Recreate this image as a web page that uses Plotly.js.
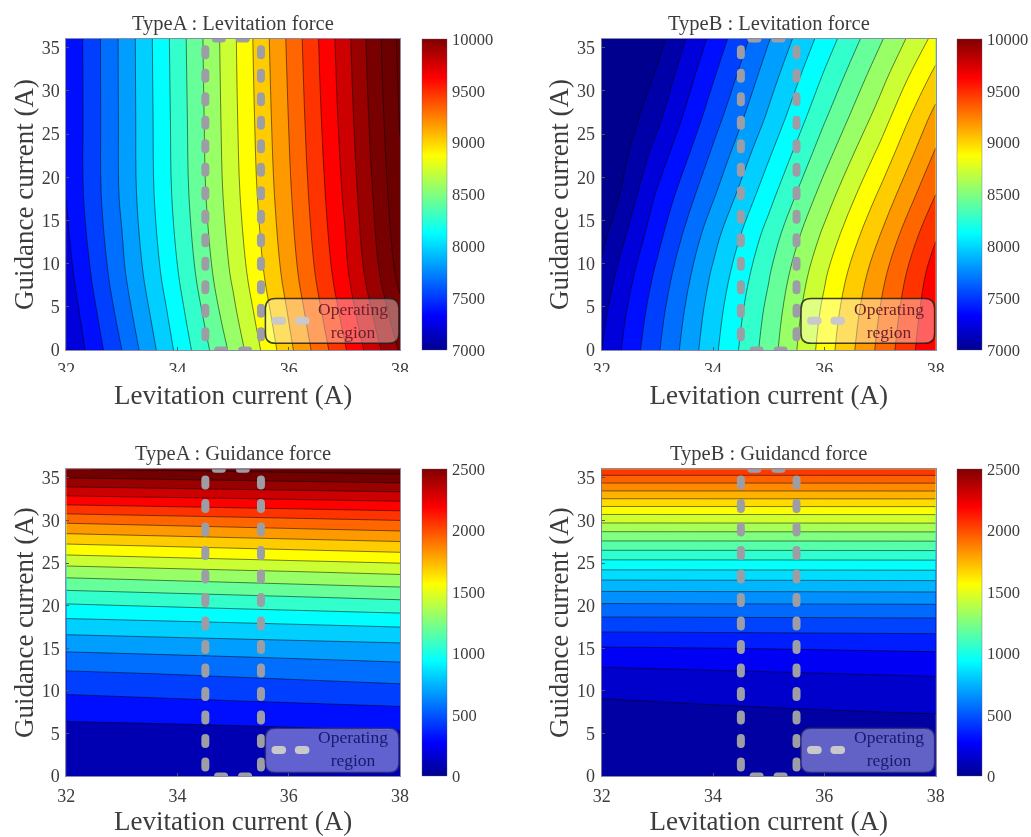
<!DOCTYPE html>
<html>
<head>
<meta charset="utf-8">
<script src="https://cdn.plot.ly/plotly-3.0.1.min.js"></script>
<style>
html,body{margin:0;padding:0;background:#fff}
#chart{width:1031px;height:837px;filter:blur(0.45px)}
.opreg .js-line{stroke-linecap:round}
</style>
</head>
<body>
<div id="chart"></div>
<script>
const panelTitles = ['TypeA : Levitation force','TypeB : Levitation force','TypeA : Guidance force','TypeB : Guidancd force'];
const xTitle = 'Levitation current (A)';
const yTitle = 'Guidance current (A)';
const xTicks = [32,34,36,38];
const yTicks = [0,5,10,15,20,25,30,35];
const levitationTicks = [7000,7500,8000,8500,9000,9500,10000];
const guidanceTicks = [0,500,1000,1500,2000,2500];

const xFine = [32,33,34,35,36,37,38];
const xCoarse = [32,35,38];
const yLevA = [0,4.5,9,18,27,36];
const typeALevitation = [
 [7147,7600,8085,8545,9061,9532,10015],
 [7190,7665,8140,8620,9115,9600,10110],
 [7240,7720,8195,8680,9170,9660,10200],
 [7305,7775,8250,8740,9225,9720,10270],
 [7308,7780,8262,8760,9255,9760,10310],
 [7310,7782,8272,8771,9277,9787,10337]];
const yLevB = [0,4.5,9,13.5,18,22.5,27,31.5,36];
const typeBLevitation = [
 [7150,7580,8010,8425,8870,9290,9700],
 [7105,7540,7975,8390,8835,9255,9670],
 [7040,7480,7920,8335,8775,9195,9625],
 [6950,7400,7840,8255,8680,9095,9530],
 [6850,7320,7730,8145,8565,8975,9400],
 [6810,7216,7630,8035,8445,8845,9275],
 [6770,7112,7530,7925,8330,8715,9150],
 [6710,7028,7438,7833,8222,8597,9000],
 [6650,6945,7347,7741,8115,8479,8850]];
const yGuideA = [0,3,6,9,12,15,18,21,24,27,30,33,36];
const typeAGuidance = [
 [130,135,140],[170,178,186],[235,252,270],[350,382,415],[481,517,555],[649,678,708],
 [840,875,910],[1058,1103,1150],[1312,1358,1404],[1602,1650,1698],[1909,1955,2000],[2264,2298,2333],[2620,2655,2690]];
const yGuideB = [0,5,10,13,15,17,19,21,23,25,27,29,31,33,35,36];
const typeBGuidance = [
 [20,22,25],[55,58,62],[110,127,145],[208,225,243],[292,303,315],[405,410,415],[519,522,525],[650,652,655],
 [800,802,805],[967,968,970],[1145,1146,1148],[1330,1331,1332],[1530,1531,1532],[1750,1751,1752],[1967,1967,1968],[2080,2080,2080]];

// operating region: dashes on the 34.5 / 35.5 A sides, top and bottom
const regionLeftRight = [34.5,35.5];
const regionY = [34.8,0.8];
const regionTopX = [34.68,35.3];
const regionBottomX = [34.72,35.35];
const legendDashX = [35.76,35.88,null,36.18,36.30];

const jetStops = [[0,'rgb(0,0,143)'],[0.11,'rgb(0,0,255)'],[0.375,'rgb(0,255,255)'],[0.625,'rgb(255,255,0)'],[0.875,'rgb(255,0,0)'],[1,'rgb(128,0,0)']];
const serif = '"Liberation Serif","Times New Roman",serif';
const ink = '#3c3c3c';
const W = 1031, H = 837;
const panels = [
 {x:xFine,y:yLevA,z:typeALevitation,L:66.3,R:400,T:39,B:350,cbL:422,min:7000,max:10000,end:10300,size:150,ticks:levitationTicks,text:'rgb(110,30,40)',ly:3.39,bT:5.97,bB:0.77,tY:3.47},
 {x:xFine,y:yLevB,z:typeBLevitation,L:601.7,R:935.7,T:39,B:350,cbL:957,min:7000,max:10000,end:10000,size:150,ticks:levitationTicks,text:'rgb(110,30,40)',ly:3.39,bT:5.97,bB:0.77,tY:3.47},
 {x:xCoarse,y:yGuideA,z:typeAGuidance,L:66.3,R:400,T:469.3,B:776,cbL:422,min:0,max:2500,end:2625,size:125,ticks:guidanceTicks,text:'rgb(25,25,110)',ly:3.05,bT:5.6,bB:0.4,tY:3.2,low:'rgb(0,0,178)'},
 {x:xCoarse,y:yGuideB,z:typeBGuidance,L:601.7,R:935.7,T:469.3,B:776,cbL:957,min:0,max:2500,end:2500,size:100,ticks:guidanceTicks,text:'rgb(25,25,110)',ly:3.05,bT:5.6,bB:0.4,tY:3.2}
];
const traces = [], shapes = [], annotations = [];
const layout = {width:W,height:H,paper_bgcolor:'#fff',plot_bgcolor:'#fff',showlegend:false,
 margin:{l:0,r:0,t:0,b:0,autoexpand:false},font:{family:serif,color:ink}};
const grey = '#9d9da5';
panels.forEach((p,i)=>{
  const n = i+1, sx = i?'x'+n:'x', sy = i?'y'+n:'y';
  layout['xaxis'+(i?n:'')] = {domain:[p.L/W,p.R/W],range:[32,38],anchor:sy,tickvals:xTicks,ticks:'inside',ticklen:3,tickcolor:'#555',ticklabelstandoff:3,
    showgrid:false,zeroline:false,showline:true,mirror:true,linecolor:'rgba(90,90,130,0.7)',linewidth:1,
    tickfont:{family:serif,size:18,color:ink},title:{text:xTitle,font:{family:serif,size:27,color:ink},standoff:6}};
  layout['yaxis'+(i?n:'')] = {domain:[1-p.B/H,1-p.T/H],range:[0,36],anchor:sx,tickvals:yTicks,ticks:'inside',ticklen:3,tickcolor:'#555',ticklabelstandoff:2,
    showgrid:false,zeroline:false,showline:true,mirror:true,linecolor:'rgba(90,90,130,0.7)',linewidth:1,
    tickfont:{family:serif,size:18,color:ink},title:{text:yTitle,font:{family:serif,size:27,color:ink},standoff:0}};
  const k = (p.max-p.min)/(p.end-p.min);
  const fillStops = p.low ? [jetStops[0],[0.075,p.low],...jetStops.slice(1)] : jetStops;
  const fillScale = fillStops.map(s=>[s[0]*k,s[1]]);
  if(k<1) fillScale.push([1,'rgb(100,0,0)']);
  traces.push({type:'heatmap',x:p.x,y:p.y,z:p.z,xaxis:sx,yaxis:sy,colorscale:jetStops,zmin:p.min,zmax:p.max,hoverinfo:'skip',
    colorbar:{x:p.cbL/W,xanchor:'left',xpad:0,ypad:0,y:1-(p.T+p.B)/2/H,yanchor:'middle',len:p.B-p.T,lenmode:'pixels',thickness:25,thicknessmode:'pixels',
      tickvals:p.ticks,tickformat:'d',ticks:'outside',ticklen:2,tickcolor:'rgba(0,0,0,0)',tickfont:{family:serif,size:16.5,color:ink},outlinewidth:0.5,outlinecolor:'rgba(90,90,130,0.7)',borderwidth:0}});
  traces.push({type:'contour',x:p.x,y:p.y,z:p.z,xaxis:sx,yaxis:sy,colorscale:fillScale,zmin:p.min,zmax:p.end,showscale:false,autocontour:false,hoverinfo:'skip',
    contours:{start:p.min,end:p.end,size:p.size,coloring:'fill'},line:{color:'rgba(0,0,0,0.5)',width:1,smoothing:1}});
  // operating region
  regionLeftRight.forEach(v=>traces.push({type:'scatter',mode:'lines',x:[v,v],y:regionY,xaxis:sx,yaxis:sy,cliponaxis:false,hoverinfo:'skip',
    line:{color:grey,width:8,dash:'6px,17.5px'}}));
  traces.push({type:'scatter',mode:'lines',x:regionTopX,y:[36,36],xaxis:sx,yaxis:sy,cliponaxis:false,hoverinfo:'skip',line:{color:grey,width:7,dash:'7px,17px'}});
  traces.push({type:'scatter',mode:'lines',x:regionBottomX,y:[0,0],xaxis:sx,yaxis:sy,cliponaxis:false,hoverinfo:'skip',line:{color:grey,width:7,dash:'7px,17px'}});
  // legend box
  const bL=35.58,bR=37.98,rx=0.18,ry=1.15;
  shapes.push({type:'path',xref:sx,yref:sy,layer:'above',
    path:`M ${bL+rx} ${p.bB} L ${bR-rx} ${p.bB} Q ${bR} ${p.bB} ${bR} ${p.bB+ry} L ${bR} ${p.bT-ry} Q ${bR} ${p.bT} ${bR-rx} ${p.bT} L ${bL+rx} ${p.bT} Q ${bL} ${p.bT} ${bL} ${p.bT-ry} L ${bL} ${p.bB+ry} Q ${bL} ${p.bB} ${bL+rx} ${p.bB} Z`,
    fillcolor:'rgba(255,255,255,0.38)',line:{color:i<2?'rgba(30,30,30,0.85)':'rgba(40,40,110,0.8)',width:1.5}});
  traces.push({type:'scatter',mode:'lines',x:legendDashX,y:[p.ly,p.ly,null,p.ly,p.ly],xaxis:sx,yaxis:sy,hoverinfo:'skip',line:{color:'#a8a8ac',width:8}});
  annotations.push({xref:'x'+(i?n:'')+' domain',yref:'paper',x:0.5,y:1-(p.T-16)/H,xanchor:'center',yanchor:'middle',showarrow:false,text:panelTitles[i],font:{family:serif,size:20.5,color:ink}});
  annotations.push({xref:sx,yref:sy,x:37.16,y:p.tY,xanchor:'center',yanchor:'middle',showarrow:false,align:'center',text:'Operating<br>region',font:{family:serif,size:17.5,color:p.text}});
});
// the top-row tick labels are cut off in the source picture
shapes.push({type:'rect',xref:'paper',yref:'paper',layer:'above',x0:0,x1:1,y0:1-381/H,y1:1-372/H,fillcolor:'#fff',line:{width:0}});
layout.shapes = shapes; layout.annotations = annotations;
Plotly.newPlot('chart',traces,layout,{displayModeBar:false,staticPlot:true}).then(gd=>{
  gd.querySelectorAll('.scatterlayer .trace').forEach(t=>t.classList.add('opreg'));
});
</script>
</body>
</html>
